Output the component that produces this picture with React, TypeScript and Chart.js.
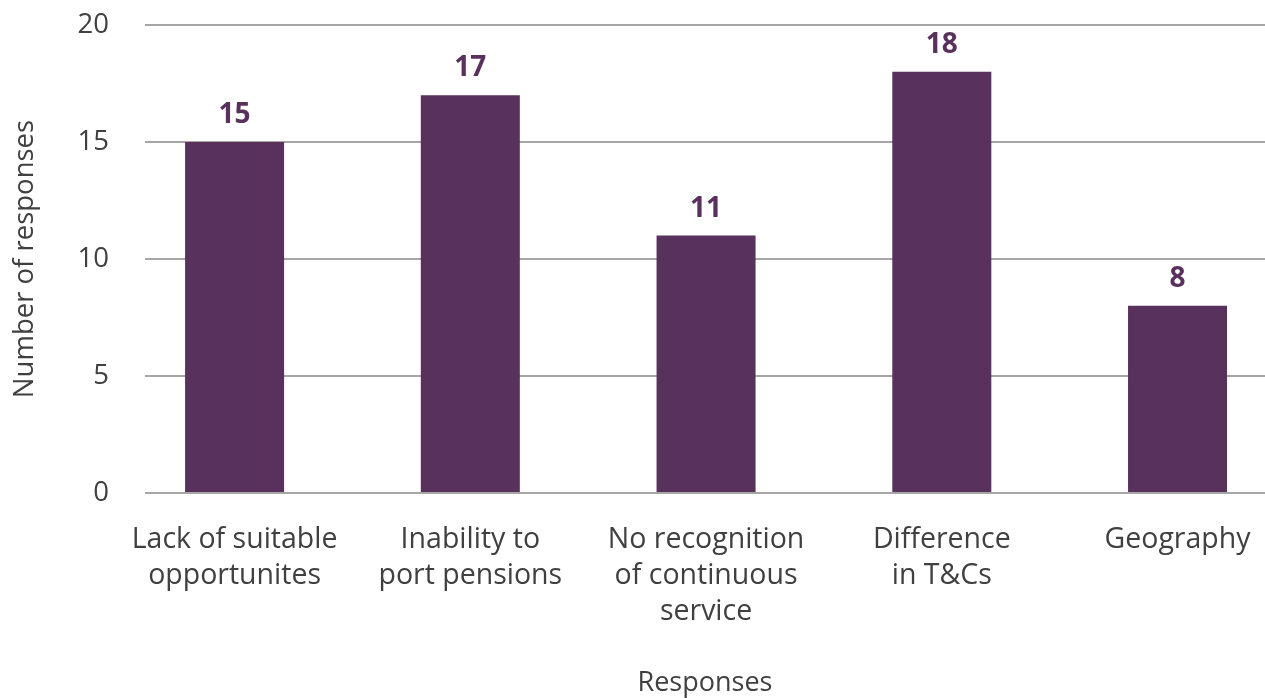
import React, { useEffect, useRef } from "react";
import { Chart, registerables } from "chart.js";

Chart.register(...registerables);

const categories: string[][] = [
  ["Lack of suitable", "opportunites"],
  ["Inability to", "port pensions"],
  ["No recognition", "of continuous", "service"],
  ["Difference", "in T&Cs"],
  ["Geography"],
];
const values: number[] = [15, 17, 11, 18, 8];
const yTicks: number[] = [0, 5, 10, 15, 20];

const BAR = "#58315c";
const TXT = "#404040";
const FONT = "'Open Sans', 'DejaVu Sans', sans-serif";

const labelPlugin = {
  id: "barLabels",
  afterDatasetsDraw(chart: any) {
    const ctx = chart.ctx;
    const meta = chart.getDatasetMeta(0);
    ctx.save();
    ctx.fillStyle = BAR;
    ctx.font = `bold 28px ${FONT}`;
    ctx.textAlign = "center";
    ctx.textBaseline = "alphabetic";
    meta.data.forEach((bar: any, i: number) => {
      ctx.fillText(String(values[i]), bar.x, bar.y - 19);
    });
    ctx.restore();
  },
};

const zeroPad = (scale: any) => {
  scale.paddingTop = 0;
  scale.paddingBottom = 0;
  scale.paddingLeft = 0;
  scale.paddingRight = 0;
};

export default function App() {
  const ref = useRef<HTMLCanvasElement | null>(null);
  useEffect(() => {
    document.body.style.margin = "0";
    document.body.style.overflow = "hidden";
    const chart = new Chart(ref.current as HTMLCanvasElement, {
      type: "bar",
      data: {
        datasets: [
          {
            data: values.map((v, i) => ({ x: i, y: v })),
            backgroundColor: BAR,
            borderWidth: 0,
            barPercentage: 0.42,
            categoryPercentage: 1,
          },
        ],
      },
      plugins: [labelPlugin],
      options: {
        responsive: false,
        animation: false,
        layout: { padding: { top: 25, left: 0, right: 0, bottom: 0 } },
        plugins: { legend: { display: false }, tooltip: { enabled: false } },
        scales: {
          x: {
            type: "linear",
            offset: false,
            min: -0.38,
            max: 4.371,
            grid: { display: false, drawTicks: false },
            border: { display: false },
            afterBuildTicks: (axis: any) => {
              axis.ticks = categories.map((_, i) => ({ value: i }));
            },
            afterFit: (scale: any) => {
              scale.height = 205;
              zeroPad(scale);
            },
            ticks: {
              autoSkip: false,
              maxRotation: 0,
              minRotation: 0,
              padding: 29,
              color: TXT,
              font: { family: FONT, size: 28.5, lineHeight: "36px" } as any,
              callback: (v: any) => categories[Math.round(Number(v))] ?? "",
            },
            title: {
              display: true,
              text: "Responses",
              color: TXT,
              font: { family: FONT, size: 27 },
              padding: { top: 0, bottom: -2 },
            },
          },
          y: {
            min: 0,
            max: 20,
            afterBuildTicks: (axis: any) => {
              axis.ticks = yTicks.map((v) => ({ value: v }));
            },
            afterFit: (scale: any) => {
              scale.width = 145;
              zeroPad(scale);
            },
            grid: { color: "#a6a6a6", lineWidth: 2, drawTicks: false },
            border: { display: false },
            ticks: {
              padding: 36,
              color: TXT,
              font: { family: FONT, size: 27.5 },
            },
            title: {
              display: true,
              text: "Number of responses",
              color: TXT,
              font: { family: FONT, size: 27.5 },
              padding: { top: 9, bottom: 0 },
            },
          },
        },
      },
    } as any);
    return () => chart.destroy();
  }, []);
  return (
    <div style={{ position: "fixed", left: 0, top: 0, width: 1265, height: 698, overflow: "hidden", background: "#fff" }}>
      <canvas ref={ref} width={1265} height={698} style={{ display: "block" }} />
    </div>
  );
}
